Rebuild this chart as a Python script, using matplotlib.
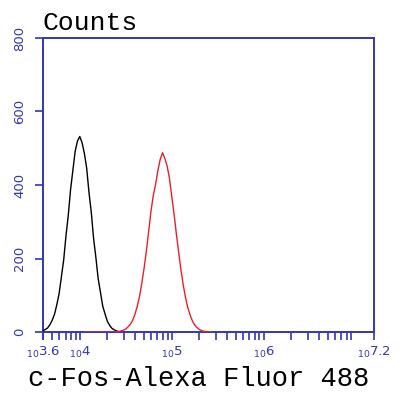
import matplotlib
matplotlib.use("Agg")
import matplotlib.pyplot as plt
import numpy as np
from matplotlib.ticker import FixedLocator, NullFormatter

# histogram channels in log10 units
bin_width = 0.025
black_start = 3.6
red_start = 4.05

# isotype / unstained control (black)
black_counts = [3, 7, 11, 20, 32, 48, 74, 104, 150, 196, 262, 318, 388, 440, 492, 520,
                532, 515, 486, 446, 380, 326, 255, 203, 145, 108, 70, 49, 29, 18, 10, 6,
                3, 1, 0]

# c-Fos stained (red)
red_counts = [0, 0, 0, 0, 0, 0, 0, 0, 0, 0, 0, 0, 0, 0,
              1, 1, 3, 5, 8, 14, 21, 32, 48, 70, 97, 133, 175, 222, 275, 330, 372, 402,
              440, 470, 488, 472, 452, 418, 370, 322, 268, 218, 170, 128, 94, 66, 46, 30,
              19, 12, 7, 4, 2, 1, 1, 0, 0]

x_tick_exp = [3.6, 4, 5, 6, 7.2]
x_tick_labels = ["3.6", "4", "5", "6", "7.2"]
y_ticks = [0, 200, 400, 600, 800]

axis_blue = "#3535b5"
mono = "Liberation Mono"

fig = plt.figure(figsize=(4.0, 3.97), dpi=100)
ax = fig.add_axes([0.1075, 0.1637, 0.8275, 0.7406])

black_x = 10 ** (black_start + bin_width * np.arange(len(black_counts)))
red_x = 10 ** (red_start + bin_width * np.arange(len(red_counts)))

ax.plot(black_x, black_counts, color="black", lw=1.0, zorder=3)
ax.plot(red_x, red_counts, color="#e8202a", lw=1.0, zorder=3)

ax.set_xscale("log")
ax.set_xlim(10 ** 3.6, 10 ** 7.2)
ax.set_ylim(0, 800)

for s in ax.spines.values():
    s.set_color(axis_blue)
    s.set_linewidth(1.4)

ax.set_yticks(y_ticks)
ax.set_yticklabels([str(v) for v in y_ticks], rotation=90, va="center",
                   color=axis_blue, fontsize=9.5)
ax.tick_params(axis="y", direction="out", length=6, width=1.2, color=axis_blue, pad=6)

ax.xaxis.set_major_locator(FixedLocator([10 ** e for e in x_tick_exp]))
ax.set_xticklabels([r"$_{10}$" + t for t in x_tick_labels], color=axis_blue, fontsize=9.5)
minor = [m * 10 ** d for d in range(3, 8) for m in range(2, 10)]
ax.xaxis.set_minor_locator(FixedLocator(minor))
ax.xaxis.set_minor_formatter(NullFormatter())
ax.tick_params(axis="x", which="both", direction="out", length=6, width=1.2,
               color=axis_blue, pad=3)

fig.text(0.1075, 0.925, "Counts", family=mono, fontsize=19, ha="left", va="baseline")
fig.text(0.497, 0.028, "c-Fos-Alexa Fluor 488", family=mono, fontsize=19.5,
         ha="center", va="baseline")

fig.savefig("out.png", dpi=100, facecolor="white")
